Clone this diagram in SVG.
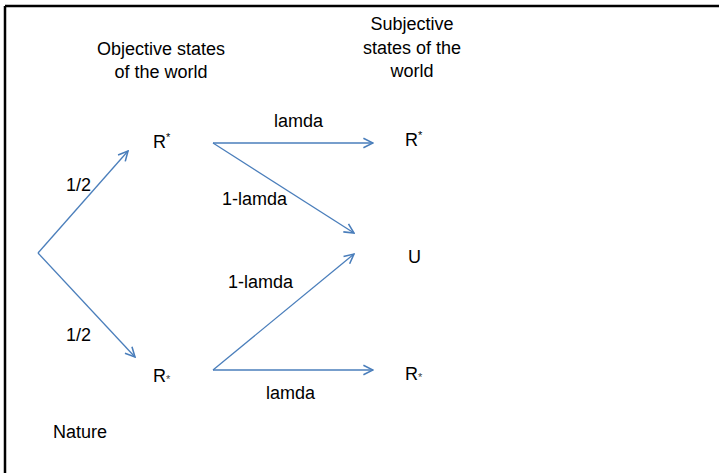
<svg xmlns="http://www.w3.org/2000/svg" width="719" height="473" viewBox="0 0 719 473">
<style>
  text { font-family: "Liberation Sans", Arial, sans-serif; font-size: 18px; fill: #000; }
  .mid { text-anchor: middle; }
  .sup { font-size: 11px; }
  .sub { font-size: 11px; fill: #444; }
  .conn { stroke: #4A7EBB; stroke-width: 1.3; fill: none; marker-end: url(#arr); }
</style>
<defs>
  <marker id="arr" markerUnits="userSpaceOnUse" markerWidth="12" markerHeight="12" viewBox="0 0 10 10" refX="9" refY="5" orient="auto">
    <path d="M1,1 L9,5 L1,9" fill="none" stroke="#4A7EBB" stroke-width="1.3"/>
  </marker>
</defs>
<rect width="719" height="473" fill="#fff"/>
<g id="frame" stroke="#000" stroke-width="2.5" fill="none">
  <line x1="5" y1="6" x2="719" y2="6"/>
  <line x1="5" y1="6" x2="5" y2="473"/>
</g>
<g id="headers">
  <text class="mid" x="161" y="55">Objective states</text>
  <text class="mid" x="161" y="78">of the world</text>
  <text class="mid" x="412" y="30">Subjective</text>
  <text class="mid" x="412" y="54">states of the</text>
  <text class="mid" x="412" y="77">world</text>
</g>
<g id="connectors">
  <line class="conn" x1="38" y1="253" x2="128" y2="151"/>
  <line class="conn" x1="38" y1="253" x2="135" y2="357"/>
  <line class="conn" x1="213" y1="143" x2="373" y2="143"/>
  <line class="conn" x1="213" y1="143" x2="354" y2="233"/>
  <line class="conn" x1="213" y1="370" x2="354" y2="254"/>
  <line class="conn" x1="213" y1="370" x2="373" y2="370"/>
</g>
<g id="nature"><text x="53" y="438">Nature</text></g>
<g id="obj-rstar-up"><text x="153" y="148">R<tspan class="sup" dy="-7">*</tspan></text></g>
<g id="obj-rstar-down"><text x="153" y="382">R<tspan class="sub" dy="1">*</tspan></text></g>
<g id="subj-rstar-up"><text x="405" y="146">R<tspan class="sup" dy="-7">*</tspan></text></g>
<g id="subj-u"><text x="408" y="263">U</text></g>
<g id="subj-rstar-down"><text x="405" y="380">R<tspan class="sub" dy="1">*</tspan></text></g>
<g id="labels">
  <text x="66" y="191">1/2</text>
  <text x="66" y="341">1/2</text>
  <text x="274" y="127">lamda</text>
  <text x="222" y="205">1-lamda</text>
  <text x="228" y="288">1-lamda</text>
  <text x="266" y="399">lamda</text>
</g>
</svg>
